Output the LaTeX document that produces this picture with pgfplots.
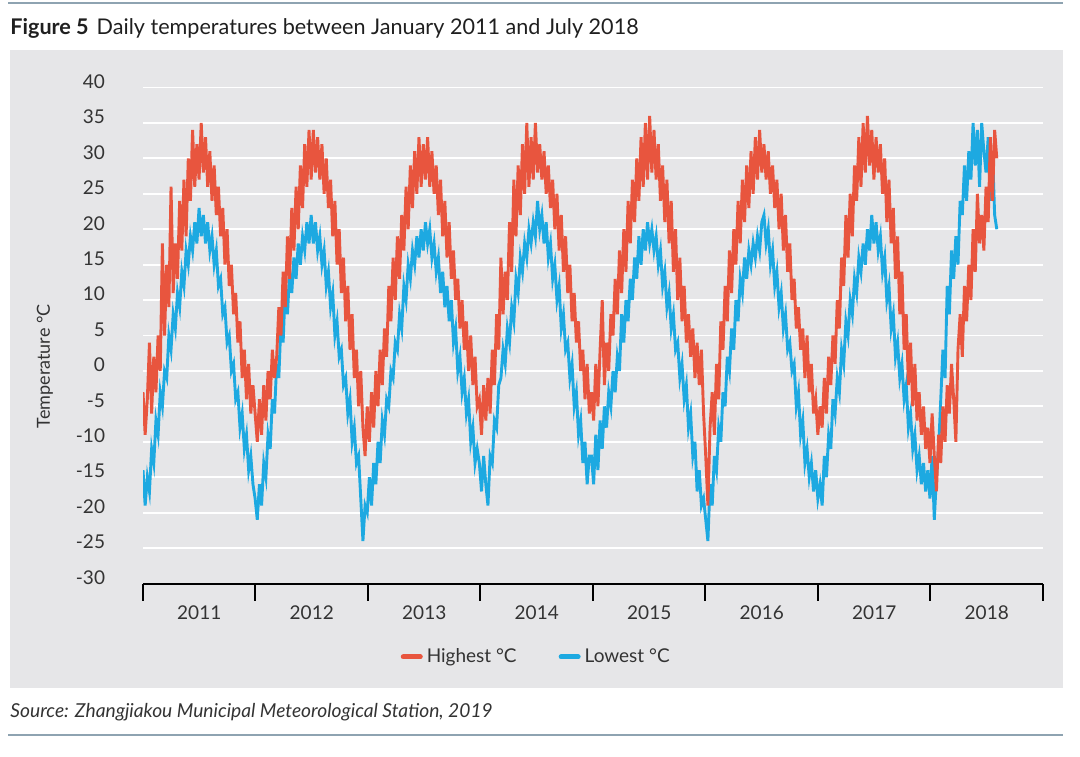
\documentclass[border=0pt]{standalone}
\usepackage{fontspec}
\setmainfont{Lato}
\usepackage{pgfplots}
\usepackage{pgfplotstable}
\pgfplotsset{compat=1.18}
\definecolor{hired}{HTML}{E8553E}
\definecolor{loblue}{HTML}{1DA9E1}
\definecolor{panel}{HTML}{E6E6E8}
\definecolor{rulec}{HTML}{8EA3B1}
\definecolor{txt}{HTML}{333333}

% weekly samples, Jan 2011 - Jul 2018 (one row per week)
\pgfplotstableread[row sep=\\]{
hi\\
-3\\-9\\-4\\4\\-6\\2\\-3\\5\\0\\18\\5\\15\\9\\26\\11\\18\\13\\24\\17\\27\\19\\30\\24\\34\\26\\32\\27\\35\\28\\33\\26\\31\\24\\29\\22\\26\\19\\23\\15\\20\\12\\15\\8\\11\\4\\7\\-1\\3\\-4\\1\\-6\\-2\\
-6\\-10\\-4\\-9\\-2\\-7\\0\\-4\\3\\-1\\2\\9\\5\\14\\9\\19\\13\\23\\17\\26\\20\\29\\23\\32\\26\\34\\27\\34\\28\\33\\27\\32\\25\\30\\23\\27\\19\\24\\15\\20\\11\\16\\7\\12\\3\\8\\-1\\3\\-5\\0\\-8\\-12\\
-5\\-10\\-3\\-8\\0\\-5\\3\\-2\\6\\2\\12\\7\\16\\10\\19\\13\\22\\17\\26\\20\\29\\23\\31\\25\\33\\26\\32\\27\\33\\26\\31\\25\\29\\22\\27\\19\\24\\16\\21\\13\\17\\10\\13\\6\\10\\3\\7\\0\\5\\-2\\2\\-5\\
-4\\-9\\-2\\-7\\-1\\-6\\3\\-2\\8\\3\\16\\8\\14\\10\\21\\14\\27\\19\\29\\22\\32\\25\\35\\26\\33\\27\\35\\28\\32\\27\\31\\25\\29\\23\\27\\20\\25\\17\\22\\14\\19\\11\\15\\7\\11\\4\\7\\0\\3\\-4\\1\\-6\\
-3\\-7\\1\\-5\\3\\10\\-2\\4\\0\\8\\5\\13\\8\\17\\11\\20\\14\\24\\18\\27\\21\\30\\24\\33\\26\\35\\27\\36\\28\\34\\27\\32\\24\\29\\21\\27\\18\\24\\14\\20\\10\\16\\7\\12\\4\\8\\2\\6\\-1\\4\\-2\\3\\
-6\\-12\\-19\\-8\\-3\\-9\\1\\-4\\7\\3\\12\\7\\17\\11\\20\\15\\24\\18\\27\\21\\29\\23\\31\\25\\33\\27\\34\\28\\32\\27\\31\\25\\29\\23\\27\\20\\25\\17\\22\\14\\18\\10\\13\\6\\9\\3\\6\\-1\\5\\-3\\1\\-6\\
-4\\-9\\-5\\-8\\-1\\-6\\2\\-2\\5\\1\\10\\6\\16\\12\\22\\16\\25\\19\\29\\24\\33\\26\\35\\28\\36\\29\\34\\27\\33\\28\\32\\25\\30\\21\\27\\18\\23\\13\\19\\8\\14\\3\\8\\-2\\4\\-5\\1\\-7\\-3\\-9\\-5\\-11\\
-8\\-13\\-6\\-12\\-17\\-9\\-13\\-5\\-10\\-2\\-6\\1\\-4\\-10\\3\\8\\2\\12\\7\\15\\10\\20\\14\\25\\18\\22\\17\\26\\21\\33\\24\\34\\30\\
}\hightab

\pgfplotstableread[row sep=\\]{
lo\\
-14\\-19\\-15\\-17\\-11\\-13\\-7\\-9\\-3\\-5\\0\\-1\\5\\3\\8\\6\\11\\9\\14\\12\\17\\15\\19\\17\\21\\18\\23\\19\\22\\18\\21\\17\\19\\15\\17\\12\\13\\8\\9\\4\\5\\0\\1\\-4\\-3\\-8\\-6\\-11\\-9\\-14\\-12\\-16\\
-18\\-21\\-16\\-19\\-13\\-15\\-9\\-11\\-4\\-6\\1\\-1\\7\\4\\12\\8\\14\\11\\16\\13\\18\\15\\19\\17\\21\\18\\22\\18\\21\\17\\19\\15\\17\\12\\14\\9\\11\\5\\7\\2\\3\\-2\\-1\\-6\\-4\\-10\\-8\\-13\\-12\\-18\\-24\\-19\\
-20\\-15\\-19\\-13\\-16\\-10\\-13\\-7\\-9\\-4\\-5\\0\\-1\\4\\3\\8\\6\\12\\10\\15\\13\\17\\15\\19\\16\\20\\17\\21\\18\\20\\16\\18\\14\\16\\11\\14\\9\\12\\7\\10\\4\\6\\0\\2\\-3\\-1\\-6\\-4\\-10\\-8\\-13\\-11\\
-13\\-17\\-12\\-16\\-19\\-12\\-13\\-7\\-8\\-2\\-1\\3\\1\\6\\4\\9\\7\\13\\11\\16\\14\\18\\16\\20\\18\\21\\19\\24\\20\\22\\18\\21\\16\\18\\13\\15\\10\\12\\6\\8\\3\\4\\-1\\1\\-5\\-3\\-9\\-7\\-13\\-10\\-16\\-12\\
-12\\-16\\-9\\-14\\-7\\-11\\-5\\-8\\-3\\-5\\0\\-3\\2\\0\\8\\4\\10\\7\\13\\10\\16\\13\\19\\15\\20\\17\\21\\18\\20\\17\\19\\15\\17\\12\\14\\9\\11\\6\\8\\3\\4\\-1\\1\\-4\\-2\\-8\\-6\\-12\\-10\\-17\\-14\\-19\\
-18\\-21\\-24\\-16\\-19\\-12\\-14\\-8\\-10\\-3\\-5\\2\\0\\6\\3\\10\\7\\13\\11\\16\\13\\17\\15\\18\\16\\19\\17\\21\\22\\18\\20\\15\\17\\12\\14\\9\\11\\6\\8\\3\\4\\0\\1\\-5\\-3\\-9\\-7\\-13\\-11\\-15\\-13\\-17\\
-14\\-18\\-16\\-19\\-12\\-15\\-9\\-11\\-4\\-6\\-1\\-3\\3\\1\\7\\5\\10\\8\\13\\11\\16\\14\\18\\15\\20\\17\\22\\18\\21\\17\\19\\14\\16\\10\\12\\6\\8\\2\\4\\-1\\1\\-4\\-2\\-8\\-6\\-11\\-9\\-14\\-12\\-16\\-13\\-17\\
-14\\-18\\-12\\-21\\-15\\-11\\-4\\3\\-1\\12\\8\\17\\13\\19\\15\\24\\22\\29\\24\\31\\27\\35\\29\\34\\26\\35\\31\\28\\33\\24\\31\\22\\20\\
}\lowtab

\begin{document}
\begin{tikzpicture}
\useasboundingbox (0,0) rectangle (540pt,-378pt);
\draw[rulec, line width=1pt] (4pt,-1.5pt) -- (531.5pt,-1.5pt);
\node[anchor=west, inner sep=0pt, text=black!88] at (5pt,-14pt)
  {\fontsize{10.8}{12}\selectfont\textbf{Figure 5}\hspace{4pt}Daily temperatures between January 2011 and July 2018};
\fill[panel] (5pt,-25pt) rectangle (531.5pt,-344pt);
\node[anchor=west, inner sep=0pt, text=txt] at (5pt,-356pt)
  {\fontsize{9.6}{11}\selectfont\itshape Source: Zhangjiakou Municipal Meteorological Station, 2019};
\draw[rulec, line width=1pt] (4pt,-367.5pt) -- (531.5pt,-367.5pt);

\begin{axis}[
  at={(71.5pt,-291.75pt)}, anchor=south west,
  scale only axis, width=450pt, height=248pt,
  xmin=2011, xmax=2019, ymin=-30, ymax=40,
  axis x line*=bottom, axis y line*=left,
  y axis line style={draw=none},
  x axis line style={black, line width=1pt},
  tick align=outside, major tick length=8.5pt,
  xtick={2011,2012,...,2019}, xticklabels={},
  xtick style={black, line width=1pt},
  extra x ticks={2011.5,2012.5,2013.5,2014.5,2015.5,2016.5,2017.5,2018.5},
  extra x tick labels={2011,2012,2013,2014,2015,2016,2017,2018},
  extra x tick style={major tick length=0pt, xticklabel style={yshift=-7.5pt}},
  ytick={-30,-25,...,40},
  ytick style={draw=none},
  extra y ticks={0}, extra y tick labels={},
  extra y tick style={grid style={black, line width=0.9pt}},
  ymajorgrids, major grid style={white, line width=0.9pt},
  /pgf/number format/assume math mode=true,
  tick label style={font=\fontsize{9.5}{11}\selectfont, text=txt},
  yticklabel style={xshift=-7pt, yshift=3pt},
  ylabel={Temperature °C},
  ylabel style={at={(axis description cs:-0.109,0.438)}, anchor=center, font=\fontsize{9}{11}\selectfont, text=txt},
  legend columns=2,
  legend style={at={(axis description cs:0.438,-0.148)}, anchor=center, draw=none, fill=none,
    font=\fontsize{9.5}{11}\selectfont, text=txt,
    /tikz/every even column/.append style={column sep=19pt}},
  legend image code/.code={\draw[#1] (0pt,0pt) -- (8.5pt,0pt);},
]
\addlegendimage{hired, line width=2.5pt, line cap=round}
\addlegendentry{Highest °C}
\addlegendimage{loblue, line width=2.5pt, line cap=round}
\addlegendentry{Lowest °C}
\addplot[loblue, line width=1.45pt, forget plot] table[x expr={2011+\coordindex*0.019165}, y=lo] {\lowtab};
\addplot[hired, line width=1.45pt, forget plot] table[x expr={2011+\coordindex*0.019165}, y=hi] {\hightab};
\end{axis}
\end{tikzpicture}
\end{document}
